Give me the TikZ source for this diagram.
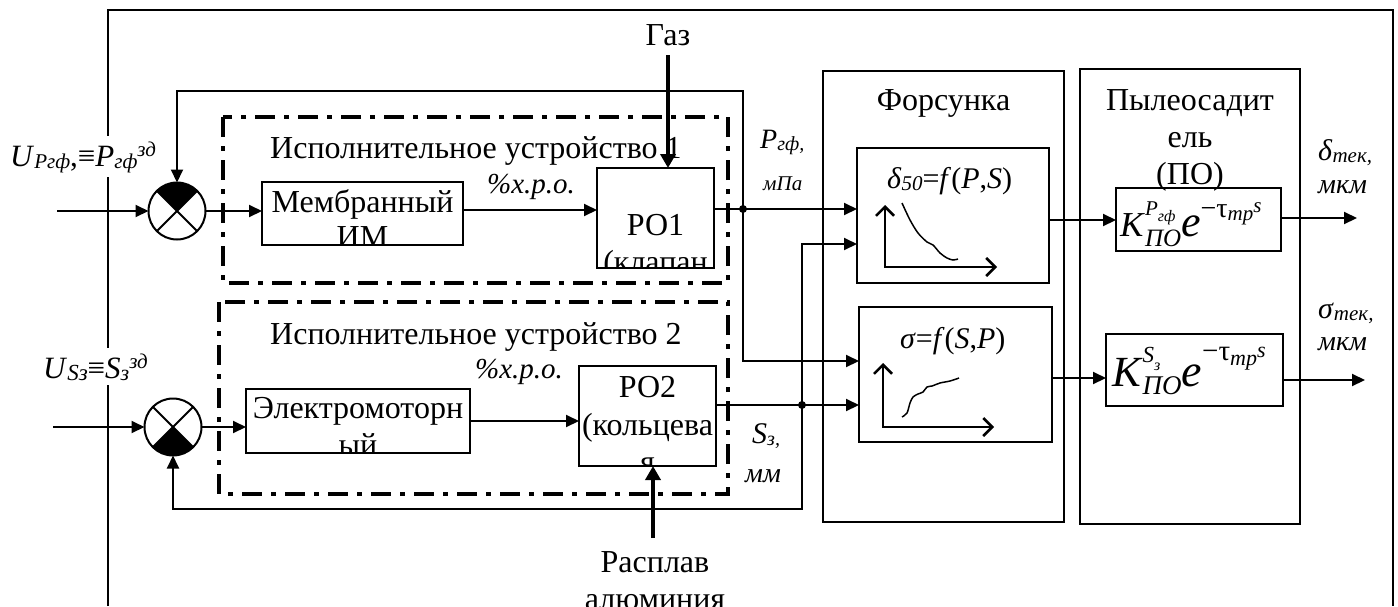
\documentclass[tikz,border=0pt]{standalone}
\usepackage{fontspec}
\setmainfont{Liberation Serif}
\usetikzlibrary{arrows.meta,calc}
\newcommand\lo[2]{\raisebox{-2pt}{\fontsize{#1}{#1}\selectfont #2}}
\newcommand\hi[3]{\raisebox{#1}{\fontsize{#2}{#2}\selectfont #3}}
\newcommand\fs[1]{\fontsize{#1}{#1}\selectfont}
\tikzset{
  ln/.style={line width=2pt},
  arr/.style={ln, -{Triangle[length=13pt,width=12pt]}},
  thickarr/.style={line width=4pt, -{Triangle[length=14pt,width=15pt]}},
  blk/.style={draw, line width=2pt, inner sep=0pt, outer sep=0pt},
  ddbox/.style={line width=3.5pt, dash pattern=on 20pt off 9pt on 5pt off 9pt},
  sumc/.style={circle, draw, line width=2pt, minimum size=57pt, inner sep=0pt, outer sep=0pt},
  tx/.style={inner sep=0pt, font=\fontsize{32}{37}\selectfont},
  lab/.style={inner sep=0pt},
  axis/.style={line width=2.5pt, {Straight Barb[length=9pt,width=18pt]}-{Straight Barb[length=9pt,width=18pt]}},
  curve/.style={line width=1.5pt},
}
\begin{document}
\begin{tikzpicture}[x=1pt,y=-1pt]
\useasboundingbox (0,0) rectangle (1398,606);
% outer frame
\draw[line width=1.8pt] (108,606) -- (108,10) -- (1393,10) -- (1393,606);

% dash-dot groups
\draw[ddbox] (223,117) rectangle (728,283);
\draw[ddbox] (219,302) rectangle (728,494);
\node[tx, anchor=base west] (g1t) at (270,158) {Исполнительное устройство 1};
\node[tx, anchor=base west] (g2t) at (270,344) {Исполнительное устройство 2};

% summing junctions
\node[sumc] (sum1) at (177,211) {};
\fill (sum1.center) -- (sum1.45) arc[start angle=45, end angle=135, radius=28.5pt] -- cycle;
\draw[ln] (sum1.45) -- (sum1.225) (sum1.135) -- (sum1.-45);
\node[sumc] (sum2) at (173,427) {};
\fill (sum2.center) -- (sum2.225) arc[start angle=225, end angle=315, radius=28.5pt] -- cycle;
\draw[ln] (sum2.45) -- (sum2.225) (sum2.135) -- (sum2.-45);

% blocks
\node[blk, minimum width=201pt, minimum height=63pt] (mem) at (362.5,213.5) {};
\node[blk, minimum width=117pt, minimum height=100pt] (po1) at (655.5,218) {};
\node[blk, minimum width=224pt, minimum height=64pt] (elec) at (358,421) {};
\node[blk, minimum width=137pt, minimum height=100pt] (po2) at (647.5,416) {};
\node[blk, minimum width=241pt, minimum height=451pt] (fors) at (943.5,296.5) {};
\node[blk, minimum width=192pt, minimum height=135pt] (dbox) at (953,215.5) {};
\node[blk, minimum width=193pt, minimum height=135pt] (sbox) at (955.5,374.5) {};
\node[blk, minimum width=220pt, minimum height=455pt] (pylo) at (1190,296.5) {};
\node[blk, minimum width=165pt, minimum height=63pt] (k1) at (1198.5,219.5) {};
\node[blk, minimum width=177pt, minimum height=72pt] (k2) at (1194.5,370) {};

% clipped block texts
\begin{scope}
\clip (mem.south west) rectangle (mem.north east);
\node[tx, anchor=base] (memt1) at (362.5,212) {Мембранный};
\node[tx, anchor=base] (memt2) at (362.5,247) {ИМ};
\end{scope}
\begin{scope}
\clip (po1.south west) rectangle (po1.north east);
\node[tx, anchor=base] (po1t1) at (655.5,235) {РО1};
\node[tx, anchor=base] (po1t2) at (655.5,272) {(клапан};
\end{scope}
\begin{scope}
\clip (elec.south west) rectangle (elec.north east);
\node[tx, anchor=base] (elt1) at (358,418) {Электромоторн};
\node[tx, anchor=base] (elt2) at (358,455) {ый};
\end{scope}
\begin{scope}
\clip (po2.south west) rectangle (po2.north east);
\node[tx, anchor=base] (po2t1) at (647.5,397) {РО2};
\node[tx, anchor=base] (po2t2) at (647.5,435) {(кольцева};
\node[tx, anchor=base] (po2t3) at (647.5,472) {я};
\end{scope}

\node[tx, anchor=base] (fort) at (943.5,110) {Форсунка};
\node[tx, anchor=base] (pyt1) at (1190,110) {Пылеосадит};
\node[tx, anchor=base] (pyt2) at (1190,147) {ель};
\node[tx, anchor=base] (pyt3) at (1190,184) {(ПО)};

% function boxes
\node[lab, anchor=base west, font=\fs{30}] (dft) at (887,188) {\textit{δ}\lo{21}{\textit{50}}=\textit{f}(\textit{P},\textit{S})};
\draw[axis] (885,205) -- (885,267) -- (997,267);
\draw[curve] plot[smooth] coordinates {(902,203) (910,220) (918,233) (927,242) (933,245) (940,253) (947,258) (953,260) (958,259)};
\node[lab, anchor=base west, font=\fs{30}] (sft) at (900,348) {\textit{σ}=\textit{f}(\textit{S},\textit{P})};
\draw[axis] (883,363) -- (883,427) -- (994,427);
\draw[curve] plot[smooth] coordinates {(902,417) (907,413) (910,403) (913,397) (918,394) (923,392) (927,387) (932,386) (940,383) (950,381) (959,378)};

% K expressions
\node[lab, anchor=base west] (k1t) at (1120,236) {{\fs{35}\textit{K}}\rlap{\hi{21pt}{21}{\textit{P}\hi{-6pt}{16}{\textit{гф}}}}\hi{-10pt}{25}{\textit{ПО}}{\fs{44}\textit{e}}\hi{19pt}{28}{−τ\hi{-3pt}{21}{\textit{тр}}\hi{5pt}{21}{\textit{s}}}};
\node[lab, anchor=base west] (k2t) at (1112,386) {{\fs{43}\textit{K}}\rlap{\hi{24pt}{23}{\textit{S}\hi{-8pt}{16}{\textit{з}}}}\hi{-8pt}{27}{\textit{ПО}}{\fs{46}\textit{e}}\hi{26pt}{29}{−τ\hi{-5pt}{22}{\textit{тр}}\hi{3pt}{22}{\textit{s}}}};

% labels
\node[lab, anchor=base west, fill=white, inner sep=5pt, font=\fs{31}] (u1) at (5,166) {\textit{U}\lo{21}{\textit{Pгф}},≡\textit{P}\lo{21}{\textit{гф}}\hi{10pt}{21}{\textit{зд}}};
\node[lab, anchor=base west, fill=white, inner sep=5pt, font=\fs{31}] (u2) at (38,378) {\textit{U}\lo{23}{\textit{Sз}}≡\textit{S}\lo{22}{\textit{з}}\hi{10pt}{21}{\textit{зд}}};
\node[lab, anchor=base west, font=\fs{29}] (xro1) at (487,193) {\textit{\%х.р.о.}};
\node[lab, anchor=base west, font=\fs{29}] (xro2) at (475,378) {\textit{\%х.р.о.}};
\node[lab, anchor=base west, font=\fs{28}] (pl) at (760,148) {\textit{P}\lo{20}{\textit{гф,}}};
\node[lab, anchor=base west, font=\fs{21}] (plu) at (763,190) {\textit{мПа}};
\node[lab, anchor=base west, font=\fs{30}] (sl) at (752,443) {\textit{S}\lo{20}{\textit{з,}}};
\node[lab, anchor=base west, font=\fs{28}] (slu) at (745,482) {\textit{мм}};
\node[lab, anchor=base west, font=\fs{30}] (dl) at (1318,160) {\textit{δ}\lo{21}{\textit{тек,}}};
\node[lab, anchor=base west, font=\fs{28}] (dlu) at (1318,193) {\textit{мкм}};
\node[lab, anchor=base west, font=\fs{30}] (sgl) at (1318,318) {\textit{σ}\lo{21}{\textit{тек,}}};
\node[lab, anchor=base west, font=\fs{28}] (sglu) at (1318,350) {\textit{мкм}};
\node[tx, anchor=base] (gas) at (668,45) {Газ};
\node[tx, anchor=base] (ras1) at (655,572) {Расплав};
\node[tx, anchor=base] (ras2) at (655,609) {алюминия};

% junctions and free ends
\coordinate (j1) at (743,209);
\coordinate (j2) at (802,405);
\coordinate (in1) at (57,211);
\coordinate (in2) at (53,427);
\coordinate (out1) at (1357,218);
\coordinate (out2) at (1365,380);
\coordinate (ga) at (668,55);
\coordinate (ra) at (653,538);

% connectors
\draw[arr] (in1) -- (sum1.west);
\draw[arr] (sum1.east) -- (mem.west |- sum1.east);
\draw[arr] (mem.east |- 0,210) -- (po1.west |- 0,210);
\draw[ln] (po1.east |- j1) -- (j1);
\draw[arr] (j1) -- (dbox.west |- j1);
\draw[arr] (j1) -- (j1 |- 0,91) -- (sum1.north |- 0,91) -- (sum1.north);
\draw[arr] (j1) |- (sbox.west |- 0,361);
\draw[arr] (in2) -- (sum2.west);
\draw[arr] (sum2.east) -- (elec.west |- sum2.east);
\draw[arr] (elec.east) -- (po2.west |- elec.east);
\draw[ln] (po2.east |- j2) -- (j2);
\draw[arr] (j2) -- (sbox.west |- j2);
\draw[arr] (j2) |- (dbox.west |- 0,244);
\draw[arr] (j2) -- (j2 |- 0,509) -| (sum2.south);
\draw[arr] (dbox.east |- 0,220) -- (k1.west |- 0,220);
\draw[arr] (sbox.east |- 0,378) -- (k2.west |- 0,378);
\draw[arr] (k1.east |- out1) -- (out1);
\draw[arr] (k2.east |- out2) -- (out2);
\draw[thickarr] (ga) -- (ga |- po1.north);
\draw[thickarr] (ra) -- (ra |- po2.south);
\fill (j1) circle[radius=4pt];
\fill (j2) circle[radius=4pt];
\end{tikzpicture}
\end{document}
